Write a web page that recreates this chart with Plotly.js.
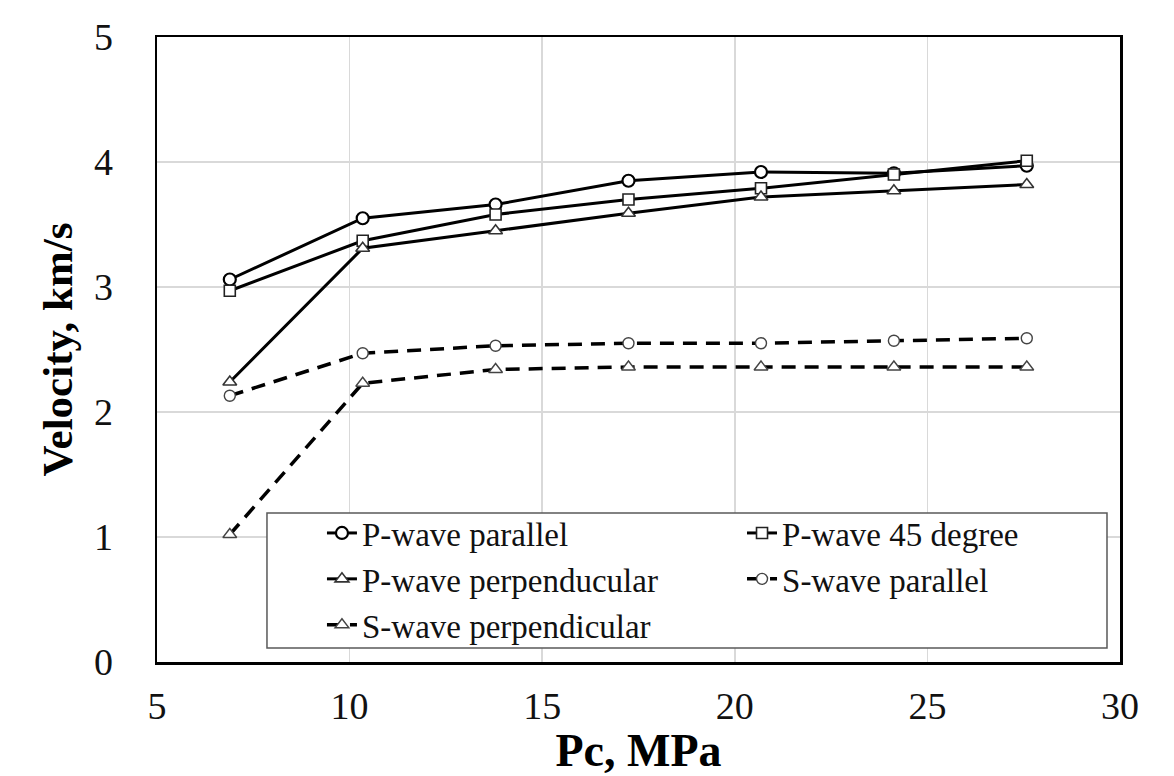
<!DOCTYPE html>
<html>
<head>
<meta charset="utf-8">
<script src="https://cdn.plot.ly/plotly-3.0.1.min.js"></script>
<style>html,body{margin:0;padding:0;background:#fff;}#chart{width:1174px;height:776px;}</style>
</head>
<body>
<div id="chart"></div>
<script>
// Confining pressure, MPa
const pressure = [6.89, 10.34, 13.79, 17.24, 20.68, 24.13, 27.58];
// Velocities, km/s
const pWaveParallel = [3.06, 3.55, 3.66, 3.85, 3.92, 3.91, 3.97];
const pWave45 = [2.97, 3.37, 3.58, 3.70, 3.79, 3.90, 4.01];
const pWavePerp = [2.24, 3.31, 3.45, 3.59, 3.72, 3.77, 3.82];
const sWaveParallel = [2.13, 2.47, 2.53, 2.55, 2.55, 2.57, 2.59];
const sWavePerp = [1.02, 2.23, 2.34, 2.36, 2.36, 2.36, 2.36];
const seriesNames = ["P-wave parallel", "P-wave 45 degree", "P-wave perpenducular", "S-wave parallel", "S-wave perpendicular"];
const xTicks = [5, 10, 15, 20, 25, 30];
const yTicks = [0, 1, 2, 3, 4, 5];

const serif = "serif";
const pLine = {color: "#000", width: 3};
const sLine = {color: "#000", width: 3.5, dash: "14px,9px"};

const traces = [
  {x: pressure, y: pWaveParallel, name: seriesNames[0], legend: "legend", mode: "lines+markers", line: pLine,
   marker: {symbol: "circle", size: 12, color: "#fff", line: {color: "#000", width: 2.2}}},
  {x: pressure, y: pWave45, name: seriesNames[1], legend: "legend2", mode: "lines+markers", line: pLine,
   marker: {symbol: "square", size: 11, color: "#fff", line: {color: "#222", width: 1.6}}},
  {x: pressure, y: pWavePerp, name: seriesNames[2], legend: "legend", mode: "lines+markers", line: pLine,
   marker: {symbol: "triangle-up", size: 12, color: "#fff", line: {color: "#333", width: 1.6}}},
  {x: pressure, y: sWaveParallel, name: seriesNames[3], legend: "legend2", mode: "lines+markers", line: sLine,
   marker: {symbol: "circle", size: 11, color: "#fff", line: {color: "#444", width: 1.4}}},
  {x: pressure, y: sWavePerp, name: seriesNames[4], legend: "legend", mode: "lines+markers", line: sLine,
   marker: {symbol: "triangle-up", size: 12, color: "#fff", line: {color: "#444", width: 1.4}}}
];

const legendBase = {
  orientation: "v",
  xanchor: "left", yanchor: "top", y: 0.2512,
  bgcolor: "rgba(0,0,0,0)", borderwidth: 0,
  font: {family: serif, size: 33, color: "#111"},
  tracegroupgap: 0
};

const layout = {
  width: 1174, height: 776,
  margin: {l: 157, r: 54, t: 37, b: 114},
  paper_bgcolor: "#fff", plot_bgcolor: "#fff",
  showlegend: true,
  font: {family: serif, color: "#111"},
  xaxis: {
    range: [5, 30], tickvals: xTicks, ticktext: xTicks.map(String),
    showgrid: true, gridcolor: "#d9d9d9", gridwidth: 1.5, zeroline: false,
    showline: true, linecolor: "#000", linewidth: 2.5, mirror: true,
    ticks: "outside", ticklen: 9, tickcolor: "rgba(0,0,0,0)",
    tickfont: {family: serif, size: 38, color: "#111"},
    title: {text: "<b>Pc, MPa</b>", font: {family: serif, size: 46, color: "#000"}, standoff: 18}
  },
  yaxis: {
    range: [0, 5], tickvals: yTicks, ticktext: yTicks.map(String),
    showgrid: true, gridcolor: "#d9d9d9", gridwidth: 1.5, zeroline: false,
    showline: true, linecolor: "#000", linewidth: 2.5, mirror: true,
    ticks: "outside", ticklen: 34, tickcolor: "rgba(0,0,0,0)",
    tickfont: {family: serif, size: 38, color: "#111"},
    title: {text: "<b>Velocity, km/s</b>", font: {family: serif, size: 43, color: "#000"}, standoff: 8}
  },
  shapes: [{
    type: "rect", xref: "paper", yref: "paper", layer: "above",
    x0: 0.1142, x1: 0.9865, y0: 0.0224, y1: 0.2384,
    fillcolor: "#fff", line: {color: "#595959", width: 1.5}
  }],
  legend: Object.assign({}, legendBase, {x: 0.1713}),
  legend2: Object.assign({}, legendBase, {x: 0.6075})
};

Plotly.newPlot("chart", traces, layout, {displayModeBar: false, staticPlot: true});
</script>
</body>
</html>
